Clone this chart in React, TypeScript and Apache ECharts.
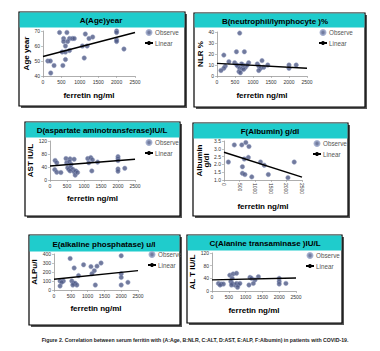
import React, { useEffect, useRef } from "react";
import * as echarts from "echarts";

// ---- data (ferritin ng/ml vs parameter) ----
const ageFerritin = [130, 200, 300, 210, 450, 560, 560, 650, 720, 800, 850, 670, 610, 520, 610, 720, 610, 540, 1070, 1200, 1150, 1250, 1350, 1120, 2000, 2000, 2000, 2000, 2200];
const ageValues = [50, 50, 47, 42, 69, 65, 63, 69, 65, 65, 65, 63, 60, 56, 56, 57, 51, 47, 60, 60, 68, 65, 66, 52, 70, 69, 64, 63, 58];
const ageTrend = [53, 69];

const nlrFerritin = [630, 540, 760, 190, 330, 490, 880, 1250, 1120, 1410, 230, 190, 110, 580, 630, 700, 790, 610, 650, 740, 840, 720, 550, 680, 1160, 1210, 1300, 1160, 2000, 2000, 2200];
const nlrValues = [39, 22, 22, 19, 13, 12, 12, 14, 11, 10, 9, 7, 5, 9, 7, 7, 8, 4, 3, 6, 10, 10, 10, 11, 9, 7, 8, 5, 10, 7, 10];
const nlrTrend = [11.5, 7];

const astFerritin = [860, 150, 200, 140, 200, 320, 470, 590, 710, 490, 570, 620, 520, 600, 550, 670, 590, 710, 760, 740, 810, 1110, 1200, 1250, 1140, 1400, 1230, 2000, 2000, 2000, 2000, 2000, 2200];
const astValues = [122, 60, 53, 32, 24, 23, 66, 65, 64, 53, 56, 48, 38, 38, 33, 33, 28, 25, 28, 15, 23, 66, 69, 62, 53, 55, 28, 72, 66, 60, 34, 27, 36];
const astTrend = [43, 64];

const albFerritin = [140, 330, 570, 700, 800, 780, 650, 590, 590, 670, 890, 1170, 1290, 1420, 2050, 2250];
const albValues = [2.15, 3.25, 3.25, 3.4, 3.15, 2.45, 2.35, 1.85, 1.43, 1.35, 1.2, 2.15, 1.95, 1.35, 1.15, 2.15];
const albTrend = [2.78, 1.18];

const alpFerritin = [480, 880, 1100, 1280, 1400, 1200, 1130, 2000, 2000, 2000, 2000, 2200, 600, 730, 180, 280, 230, 180, 530, 580, 630, 680, 560, 1230];
const alpValues = [350, 280, 260, 265, 300, 215, 180, 380, 180, 140, 55, 85, 245, 160, 100, 100, 85, 45, 100, 75, 75, 55, 55, 55];
const alpTrend = [120, 215];

const altFerritin = [880, 530, 630, 730, 600, 190, 270, 340, 240, 560, 600, 680, 730, 780, 830, 580, 760, 1130, 1180, 1280, 1380, 1100, 1230, 2000, 2000, 2000, 2200];
const altValues = [122, 50, 54, 56, 40, 24, 22, 22, 19, 30, 24, 19, 24, 19, 24, 19, 12, 43, 40, 35, 45, 19, 24, 40, 30, 22, 24];
const altTrend = [35, 41];

const trendX = [0, 2500];

type Panel = {
  title: string;
  yName: string;
  xs: number[];
  ys: number[];
  trend: number[];
  box: [number, number, number, number];
  titleH: number;
  titleCx: number;
  grid: [number, number, number, number];
  yMin: number;
  yMax: number;
  yInt: number;
  yGap: number;
  xGap: number;
  rotateX?: boolean;
  dec?: boolean;
  legend: [number, number];
};

const panels: Panel[] = [
  { title: "A(Age)year", yName: "Age year", xs: ageFerritin, ys: ageValues, trend: ageTrend,
    box: [19, 12, 166, 94], titleH: 15, titleCx: 101, grid: [43, 31, 92, 45], yMin: 40, yMax: 70, yInt: 10, yGap: 11, xGap: 15, legend: [144, 29] },
  { title: "B(neutrophil/lymphocyte )%", yName: "NLR %", xs: nlrFerritin, ys: nlrValues, trend: nlrTrend,
    box: [194, 13, 171, 94], titleH: 14, titleCx: 275, grid: [217, 32, 90, 44], yMin: 0, yMax: 40, yInt: 10, yGap: 11, xGap: 15, legend: [318, 29] },
  { title: "D(aspartate aminotransferase)IU/L", yName: "AST IU/L", xs: astFerritin, ys: astValues, trend: astTrend,
    box: [25, 122, 155, 94], titleH: 15, titleCx: 102, grid: [50, 141, 85, 39], yMin: 0, yMax: 120, yInt: 40, yGap: 13, xGap: 14, legend: [144, 139] },
  { title: "F(Albumin) g/dl", yName: "Albumin\ng/dl", xs: albFerritin, ys: albValues, trend: albTrend,
    box: [193, 123, 155, 93], titleH: 15, titleCx: 270, grid: [224, 141, 78, 39], yMin: 1, yMax: 3.5, yInt: 0.5, yGap: 14, xGap: 22, rotateX: true, dec: true, legend: [312, 140] },
  { title: "E(alkaline phosphatase) u/l", yName: "ALPu/l", xs: alpFerritin, ys: alpValues, trend: alpTrend,
    box: [29, 235, 151, 90], titleH: 16, titleCx: 104, grid: [54, 254, 84, 36], yMin: 0, yMax: 400, yInt: 100, yGap: 14, xGap: 14, legend: [147, 251] },
  { title: "C(Alanine transaminase )IU/L", yName: "AL T IU/L", xs: altFerritin, ys: altValues, trend: altTrend,
    box: [187, 235, 155, 88], titleH: 15, titleCx: 265, grid: [212, 253, 84, 38], yMin: 0, yMax: 120, yInt: 40, yGap: 14, xGap: 15, legend: [305, 252] },
];

const caption = "Figure 2. Correlation between serum ferritin with (A:Age, B:NLR, C:ALT, D:AST, E:ALP, F:Albumin) in patients with COVID-19.";

const FONT = "Liberation Sans, Arial, sans-serif";

export default function App() {
  const ref = useRef<HTMLDivElement>(null);
  useEffect(() => {
    if (!ref.current) return;
    const chart = echarts.init(ref.current, undefined, { renderer: "svg" });

    const graphics: any[] = [];
    panels.forEach((p) => {
      const [bx, by, bw, bh] = p.box;
      graphics.push({ type: "rect", z: 0, shape: { x: bx + 2, y: by + 2, width: bw, height: bh }, style: { fill: "#555" } });
      graphics.push({ type: "rect", z: 0, shape: { x: bx, y: by, width: bw, height: bh }, style: { fill: "#fff", stroke: "#000", lineWidth: 1.2 } });
      graphics.push({ type: "rect", z: 0, shape: { x: bx + 0.6, y: by + 0.6, width: bw - 1.2, height: p.titleH }, style: { fill: "#1fcccc" } });
      graphics.push({ type: "text", z: 1, x: p.titleCx, y: by + p.titleH / 2 + 1, style: { text: p.title, fontSize: 8, fontWeight: "bold", fontFamily: FONT, fill: "#000", align: "center", verticalAlign: "middle" } });
    });
    graphics.push({ type: "text", x: 195, y: 340, style: { text: caption, fontSize: 5.2, fontWeight: "bold", fontFamily: "Liberation Sans Narrow, Arial Narrow, sans-serif", fill: "#222", align: "center", verticalAlign: "middle" } });

    const axisLineStyle = { lineStyle: { color: "#999", width: 0.8 } };
    const option: any = {
      animation: false,
      backgroundColor: "#fff",
      graphic: graphics,
      grid: panels.map((p) => ({ left: p.grid[0], top: p.grid[1], width: p.grid[2], height: p.grid[3], containLabel: false })),
      xAxis: panels.map((p, i) => ({
        type: "value", gridIndex: i, min: 0, max: 2500, interval: 500,
        name: "ferretin ng/ml", nameLocation: "middle", nameGap: p.xGap,
        nameTextStyle: { fontSize: 8, fontWeight: "bold", fontFamily: FONT, color: "#000" },
        axisLine: { show: true, ...axisLineStyle }, axisTick: { show: true, length: 2, lineStyle: { color: "#999", width: 0.6 } },
        splitLine: { show: false },
        axisLabel: { fontSize: 5, fontFamily: FONT, color: "#333", margin: 3, rotate: p.rotateX ? -90 : 0, formatter: (v: number) => String(v) },
      })),
      yAxis: panels.map((p, i) => ({
        type: "value", gridIndex: i, min: p.yMin, max: p.yMax, interval: p.yInt,
        name: p.yName, nameLocation: "middle", nameGap: p.yGap, nameRotate: 90,
        nameTextStyle: { fontSize: 8, fontWeight: "bold", fontFamily: FONT, color: "#000", lineHeight: 7 },
        axisLine: { show: true, ...axisLineStyle }, axisTick: { show: true, length: 2, lineStyle: { color: "#999", width: 0.6 } },
        splitLine: { show: false },
        axisLabel: { fontSize: 5, fontFamily: FONT, color: "#333", margin: 3, formatter: (v: number) => (p.dec ? v.toFixed(1) : String(v)) },
      })),
      legend: panels.map((p) => ({
        left: p.legend[0], top: p.legend[1], orient: "vertical", itemGap: 4, itemWidth: 8, itemHeight: 5,
        textStyle: { fontSize: 6.3, fontFamily: FONT, color: "#555", padding: [0, 0, 0, -3] },
        padding: 0,
        data: [{ name: "Observe", icon: "circle" }, { name: "Linear" }],
      })),
      series: panels.flatMap((p, i) => [
        {
          type: "scatter", name: "Observe", xAxisIndex: i, yAxisIndex: i, symbolSize: 4.5,
          itemStyle: { color: "#4d5985", borderColor: "#95a1c4", borderWidth: 0.6 },
          data: p.xs.map((x, k) => [x, p.ys[k]]),
        },
        {
          type: "line", name: "Linear", xAxisIndex: i, yAxisIndex: i, symbol: "none",
          lineStyle: { color: "#000", width: 1.4 }, itemStyle: { color: "#000" },
          data: trendX.map((x, k) => [x, p.trend[k]]),
        },
      ]),
    };
    chart.setOption(option);
    return () => chart.dispose();
  }, []);
  return <div ref={ref} style={{ position: "absolute", left: 0, top: 0, width: 380, height: 351, background: "#fff" }} />;
}
